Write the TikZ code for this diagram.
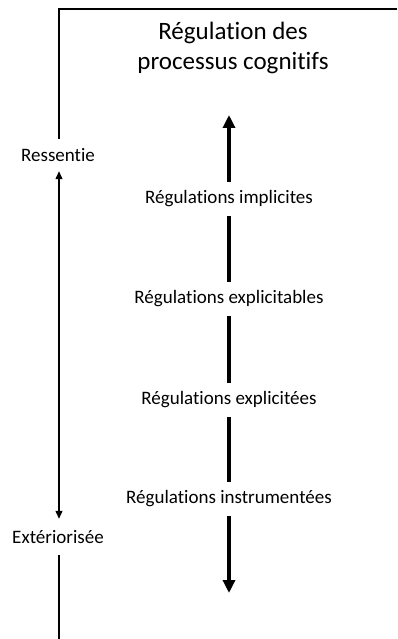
\documentclass[tikz,border=0pt]{standalone}
\usepackage{fontspec}
\setmainfont{Carlito}[Ligatures = NoCommon]
\usetikzlibrary{arrows.meta}
\begin{document}
\begin{tikzpicture}[x = 1pt, y = -1pt,
            lbl/.style = {inner sep = 0pt, minimum height = 32pt, font = \fontsize{19}{22}\selectfont},
            bigarrow/.style = {line width = 3.8pt, -{Triangle[length = 13pt, width = 12pt]}},
            biglink/.style = {line width = 3.8pt},
            thin/.style = {line width = 1.2pt}]
            \useasboundingbox (0, 0) rectangle (397, 639);
            \node [align = center, font = \fontsize{25}{30}\selectfont] (title) at (233, 48) {Régulation des\\processus cognitifs};
            \coordinate (topleft) at (59, 9);
            \coordinate (topright) at (397, 9);
            \coordinate (bottom) at (59, 639);
            \coordinate (up) at (229, 115);
            \coordinate (down) at (229, 593);
            \node [lbl] (ress) at (58, 155) {Ressentie};
            \node [lbl, minimum height = 36pt] (ext) at (58, 537) {Extériorisée};
            \node [lbl, minimum height = 34pt] (impl) at (229, 199) {Régulations implicites};
            \node [lbl, minimum height = 34pt] (explb) at (229, 299) {Régulations explicitables};
            \node [lbl, minimum height = 34pt] (expl) at (229, 400) {Régulations explicitées};
            \node [lbl, minimum height = 34pt] (instr) at (229, 499) {Régulations instrumentées};
            \draw [thin] (ress.north -| topleft) -- (topleft) -- (topright);
            \draw [thin, {Triangle[length = 8pt, width = 7pt]}-{Triangle[length = 8pt, width = 7pt]}] (ress.south -| topleft) -- (ext.north -| topleft);
            \draw [thin] (ext.south -| bottom) -- (bottom);
            \draw [bigarrow] (impl) -- (up);
            \draw [biglink] (impl) -- (explb);
            \draw [biglink] (explb) -- (expl);
            \draw [biglink] (expl) -- (instr);
            \draw [bigarrow] (instr) -- (down);
        \end{tikzpicture}
\end{document}
